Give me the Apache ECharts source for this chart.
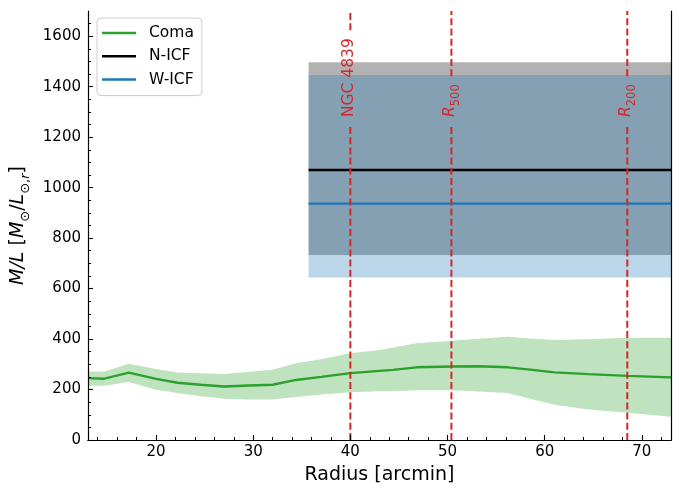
<!DOCTYPE html>
<html>
<head>
<meta charset="utf-8">
<script src="https://cdn.jsdelivr.net/npm/echarts@6/dist/echarts.min.js"></script>
<style>
  html, body { margin: 0; padding: 0; background: #ffffff; }
  #chart { width: 679px; height: 490px; }
</style>
</head>
<body>
<div id="chart"></div>
<script>
// Coma cluster mass-to-light profile (median with 1-sigma envelope)
const radius    = [13.0, 14.7, 17.2, 20.0, 22.2, 24.6, 27.0, 29.6, 32.0, 34.4, 37.0, 40.0, 43.0, 44.4, 46.8, 50.5, 53.2, 56.2, 58.5, 61.0, 64.5, 68.5, 73.0];
const comaML    = [245, 243, 267, 242, 227, 219, 212, 216, 219, 238, 250, 265, 274, 278, 288, 291, 292, 288, 279, 268, 261, 254, 248];
const comaUpper = [271, 271, 302, 281, 267, 265, 262, 270, 278, 304, 320, 344, 357, 367, 383, 393, 401, 409, 402, 396, 399, 405, 405];
const comaLower = [215, 215, 230, 199, 186, 173, 163, 160, 160, 170, 180, 189, 193, 193, 197, 197, 192, 186, 163, 140, 121, 108, 92];

// Intracluster fields: M/L level and range, drawn over a radial extent
const icfNames  = ['N-ICF', 'W-ICF'];
const icfML     = [1070, 937];
const icfLow    = [733, 644];
const icfHigh   = [1497, 1446];
const icfRadius = [35.7, 73.0];

// Reference radii
const refNames   = ['NGC 4839', 'R500', 'R200'];
const refLabels  = ['{n|NGC 4839}', '{i|R}{s|500}', '{i|R}{s|200}'];
const refRadius  = [40.0, 50.4, 68.5];
const refLabelML = 1280;

// Axis ranges and ticks
const xRange = [13, 73];
const yRange = [0, 1700];
const xTicks = [20, 30, 40, 50, 60, 70];
const xMinorTicks = [14, 16, 18, 22, 24, 26, 28, 32, 34, 36, 38, 42, 44, 46, 48, 52, 54, 56, 58, 62, 64, 66, 68, 72];
const yTicks = [0, 200, 400, 600, 800, 1000, 1200, 1400, 1600];
const yMinorTicks = [50, 100, 150, 250, 300, 350, 450, 500, 550, 650, 700, 750, 850, 900, 950,
                     1050, 1100, 1150, 1250, 1300, 1350, 1450, 1500, 1550, 1650];

const FONT = "'DejaVu Sans', 'Liberation Sans', sans-serif";
const GREEN = '#2ca02c', BLUE = '#1f77b4', RED = '#d62728';

const refRich = {
  n: { fontSize: 15.5, fontFamily: FONT, lineHeight: 18, verticalAlign: 'top', fill: RED, color: RED },
  i: { fontSize: 15.5, fontFamily: FONT, fontStyle: 'italic', lineHeight: 18, verticalAlign: 'top', fill: RED, color: RED },
  s: { fontSize: 11.5, fontFamily: FONT, lineHeight: 12, padding: [8, 0, 0, 0], verticalAlign: 'top', fill: RED, color: RED }
};

// Width of a rich label string, used to leave a gap in the dashed line behind it
const measureCtx = document.createElement('canvas').getContext('2d');
function richWidth(str) {
  let w = 0;
  str.replace(/\{(\w+)\|([^}]*)\}/g, function (_, key, txt) {
    const st = refRich[key];
    measureCtx.font = (st.fontStyle || 'normal') + ' ' + st.fontSize + 'px ' + FONT;
    w += measureCtx.measureText(txt).width;
    return '';
  });
  return w;
}

const chart = echarts.init(document.getElementById('chart'), null, { renderer: 'canvas' });

function rectBand(i, fill) {
  return function (params, api) {
    const p0 = api.coord([icfRadius[0], icfHigh[i]]);
    const p1 = api.coord([icfRadius[1], icfLow[i]]);
    return {
      type: 'rect',
      shape: { x: p0[0], y: p0[1], width: p1[0] - p0[0], height: p1[1] - p0[1] },
      style: { fill: fill }
    };
  };
}

const plainNumber = function (v) { return String(v); };
const axisBase = { type: 'value', min: xRange[0], max: xRange[1], z: 10 };

const option = {
  animation: false,
  backgroundColor: '#ffffff',
  grid: { left: 88, right: 8, top: 11, bottom: 46, containLabel: false },
  legend: {
    data: [
      { name: 'Coma', icon: 'rect' },
      { name: 'N-ICF', icon: 'rect' },
      { name: 'W-ICF', icon: 'rect' }
    ],
    orient: 'vertical',
    left: 97, top: 18,
    padding: [7, 8, 8, 5],
    itemWidth: 34, itemHeight: 2.5, itemGap: 7.3,
    backgroundColor: 'rgba(255,255,255,0.85)',
    borderColor: '#cccccc', borderWidth: 1, borderRadius: 4,
    selectedMode: false,
    textStyle: { fontFamily: FONT, fontSize: 15.5, color: '#000', padding: [0, 0, 0, 8] }
  },
  xAxis: [
    Object.assign({}, axisBase, {
      position: 'bottom',
      name: 'Radius [arcmin]', nameLocation: 'middle', nameGap: 26,
      nameTextStyle: { fontFamily: FONT, fontSize: 19, color: '#000' },
      axisLine: { show: true, lineStyle: { color: '#000', width: 1.2 } },
      axisTick: { show: true, inside: true, length: 5, customValues: xTicks, lineStyle: { color: '#000', width: 1.1 } },
      axisLabel: { show: true, customValues: xTicks, formatter: plainNumber, margin: 5, fontFamily: FONT, fontSize: 15, color: '#000' },
      splitLine: { show: false }
    }),
    Object.assign({}, axisBase, {
      position: 'bottom',
      axisLine: { show: false },
      axisTick: { show: true, inside: true, length: 3, customValues: xMinorTicks, lineStyle: { color: '#000', width: 1 } },
      axisLabel: { show: false },
      splitLine: { show: false }
    }),
    Object.assign({}, axisBase, {
      position: 'top',
      axisLine: { show: true, lineStyle: { color: '#000', width: 1.2 } },
      axisTick: { show: false }, axisLabel: { show: false }, splitLine: { show: false }
    })
  ],
  yAxis: [
    {
      type: 'value', min: yRange[0], max: yRange[1], z: 10, position: 'left',
      name: '{i|M/L}{n| [}{i|M}{s|⊙}{n|/}{i|L}{s|⊙,}{si|r}{n|]}',
      nameLocation: 'middle', nameGap: 47,
      nameTextStyle: {
        fontFamily: FONT, fontSize: 19, color: '#000',
        rich: {
          n:  { fontFamily: FONT, fontSize: 19, lineHeight: 22, verticalAlign: 'top', color: '#000' },
          i:  { fontFamily: FONT, fontSize: 19, fontStyle: 'italic', lineHeight: 22, verticalAlign: 'top', color: '#000' },
          s:  { fontFamily: FONT, fontSize: 13, lineHeight: 14, padding: [10, 0, 0, 0], verticalAlign: 'top', color: '#000' },
          si: { fontFamily: FONT, fontSize: 13, fontStyle: 'italic', lineHeight: 14, padding: [10, 0, 0, 0], verticalAlign: 'top', color: '#000' }
        }
      },
      axisLine: { show: true, lineStyle: { color: '#000', width: 1.2 } },
      axisTick: { show: true, inside: true, length: 5, customValues: yTicks, lineStyle: { color: '#000', width: 1.1 } },
      axisLabel: { show: true, customValues: yTicks, formatter: plainNumber, margin: 7, fontFamily: FONT, fontSize: 15, color: '#000' },
      splitLine: { show: false }
    },
    {
      type: 'value', min: yRange[0], max: yRange[1], z: 10, position: 'left',
      axisLine: { show: false },
      axisTick: { show: true, inside: true, length: 3, customValues: yMinorTicks, lineStyle: { color: '#000', width: 1 } },
      axisLabel: { show: false }, splitLine: { show: false }
    },
    {
      type: 'value', min: yRange[0], max: yRange[1], z: 10, position: 'right',
      axisLine: { show: true, lineStyle: { color: '#000', width: 1.2 } },
      axisTick: { show: false }, axisLabel: { show: false }, splitLine: { show: false }
    }
  ],
  series: [
    {
      name: 'Coma envelope',
      type: 'custom', silent: true, z: 1, clip: true,
      data: [[radius[0], comaLower[0]]],
      renderItem: function (params, api) {
        const pts = [];
        for (let i = 0; i < radius.length; i++) pts.push(api.coord([radius[i], comaUpper[i]]));
        for (let i = radius.length - 1; i >= 0; i--) pts.push(api.coord([radius[i], comaLower[i]]));
        return { type: 'polygon', shape: { points: pts }, style: { fill: 'rgba(44,160,44,0.3)' } };
      }
    },
    {
      name: 'N-ICF range', type: 'custom', silent: true, z: 1, clip: true,
      data: [[icfRadius[0], icfLow[0]]],
      renderItem: rectBand(0, 'rgba(0,0,0,0.3)')
    },
    {
      name: 'W-ICF range', type: 'custom', silent: true, z: 1, clip: true,
      data: [[icfRadius[0], icfLow[1]]],
      renderItem: rectBand(1, 'rgba(31,119,180,0.3)')
    },
    {
      name: 'Coma', type: 'line', z: 3, symbol: 'none', showSymbol: false, silent: true,
      data: radius.map(function (r, i) { return [r, comaML[i]]; }),
      lineStyle: { color: GREEN, width: 2.4 }, itemStyle: { color: GREEN }
    },
    {
      name: icfNames[0], type: 'line', z: 3, symbol: 'none', showSymbol: false, silent: true,
      data: icfRadius.map(function (r) { return [r, icfML[0]]; }),
      lineStyle: { color: '#000000', width: 2.4 }, itemStyle: { color: '#000000' }
    },
    {
      name: icfNames[1], type: 'line', z: 3, symbol: 'none', showSymbol: false, silent: true,
      data: icfRadius.map(function (r) { return [r, icfML[1]]; }),
      lineStyle: { color: BLUE, width: 2.2 }, itemStyle: { color: BLUE }
    },
    {
      name: 'Reference radii', type: 'custom', silent: true, z: 4, clip: true,
      data: refRadius.map(function (r, i) { return [r, i]; }),
      renderItem: function (params, api) {
        const i = params.dataIndex;
        const x = api.value(0);
        const pBottom = api.coord([x, yRange[0]]);
        const pTop = api.coord([x, yRange[1]]);
        const pLab = api.coord([x, refLabelML]);
        const len = richWidth(refLabels[i]);
        const gap = 8;
        const ls = { stroke: RED, lineWidth: 2, lineDash: [7, 3.2], fill: null };
        return {
          type: 'group',
          children: [
            { type: 'line', shape: { x1: pBottom[0], y1: pBottom[1], x2: pLab[0], y2: pLab[1] + gap }, style: ls },
            { type: 'line', shape: { x1: pLab[0], y1: pLab[1] - len - gap, x2: pTop[0], y2: pTop[1] }, style: ls },
            {
              type: 'text', x: pLab[0], y: pLab[1], rotation: Math.PI / 2,
              style: {
                text: refLabels[i], rich: refRich,
                fill: RED, font: '15.5px ' + FONT,
                align: 'left', verticalAlign: 'middle'
              }
            }
          ]
        };
      }
    }
  ]
};

chart.setOption(option);
</script>
</body>
</html>
